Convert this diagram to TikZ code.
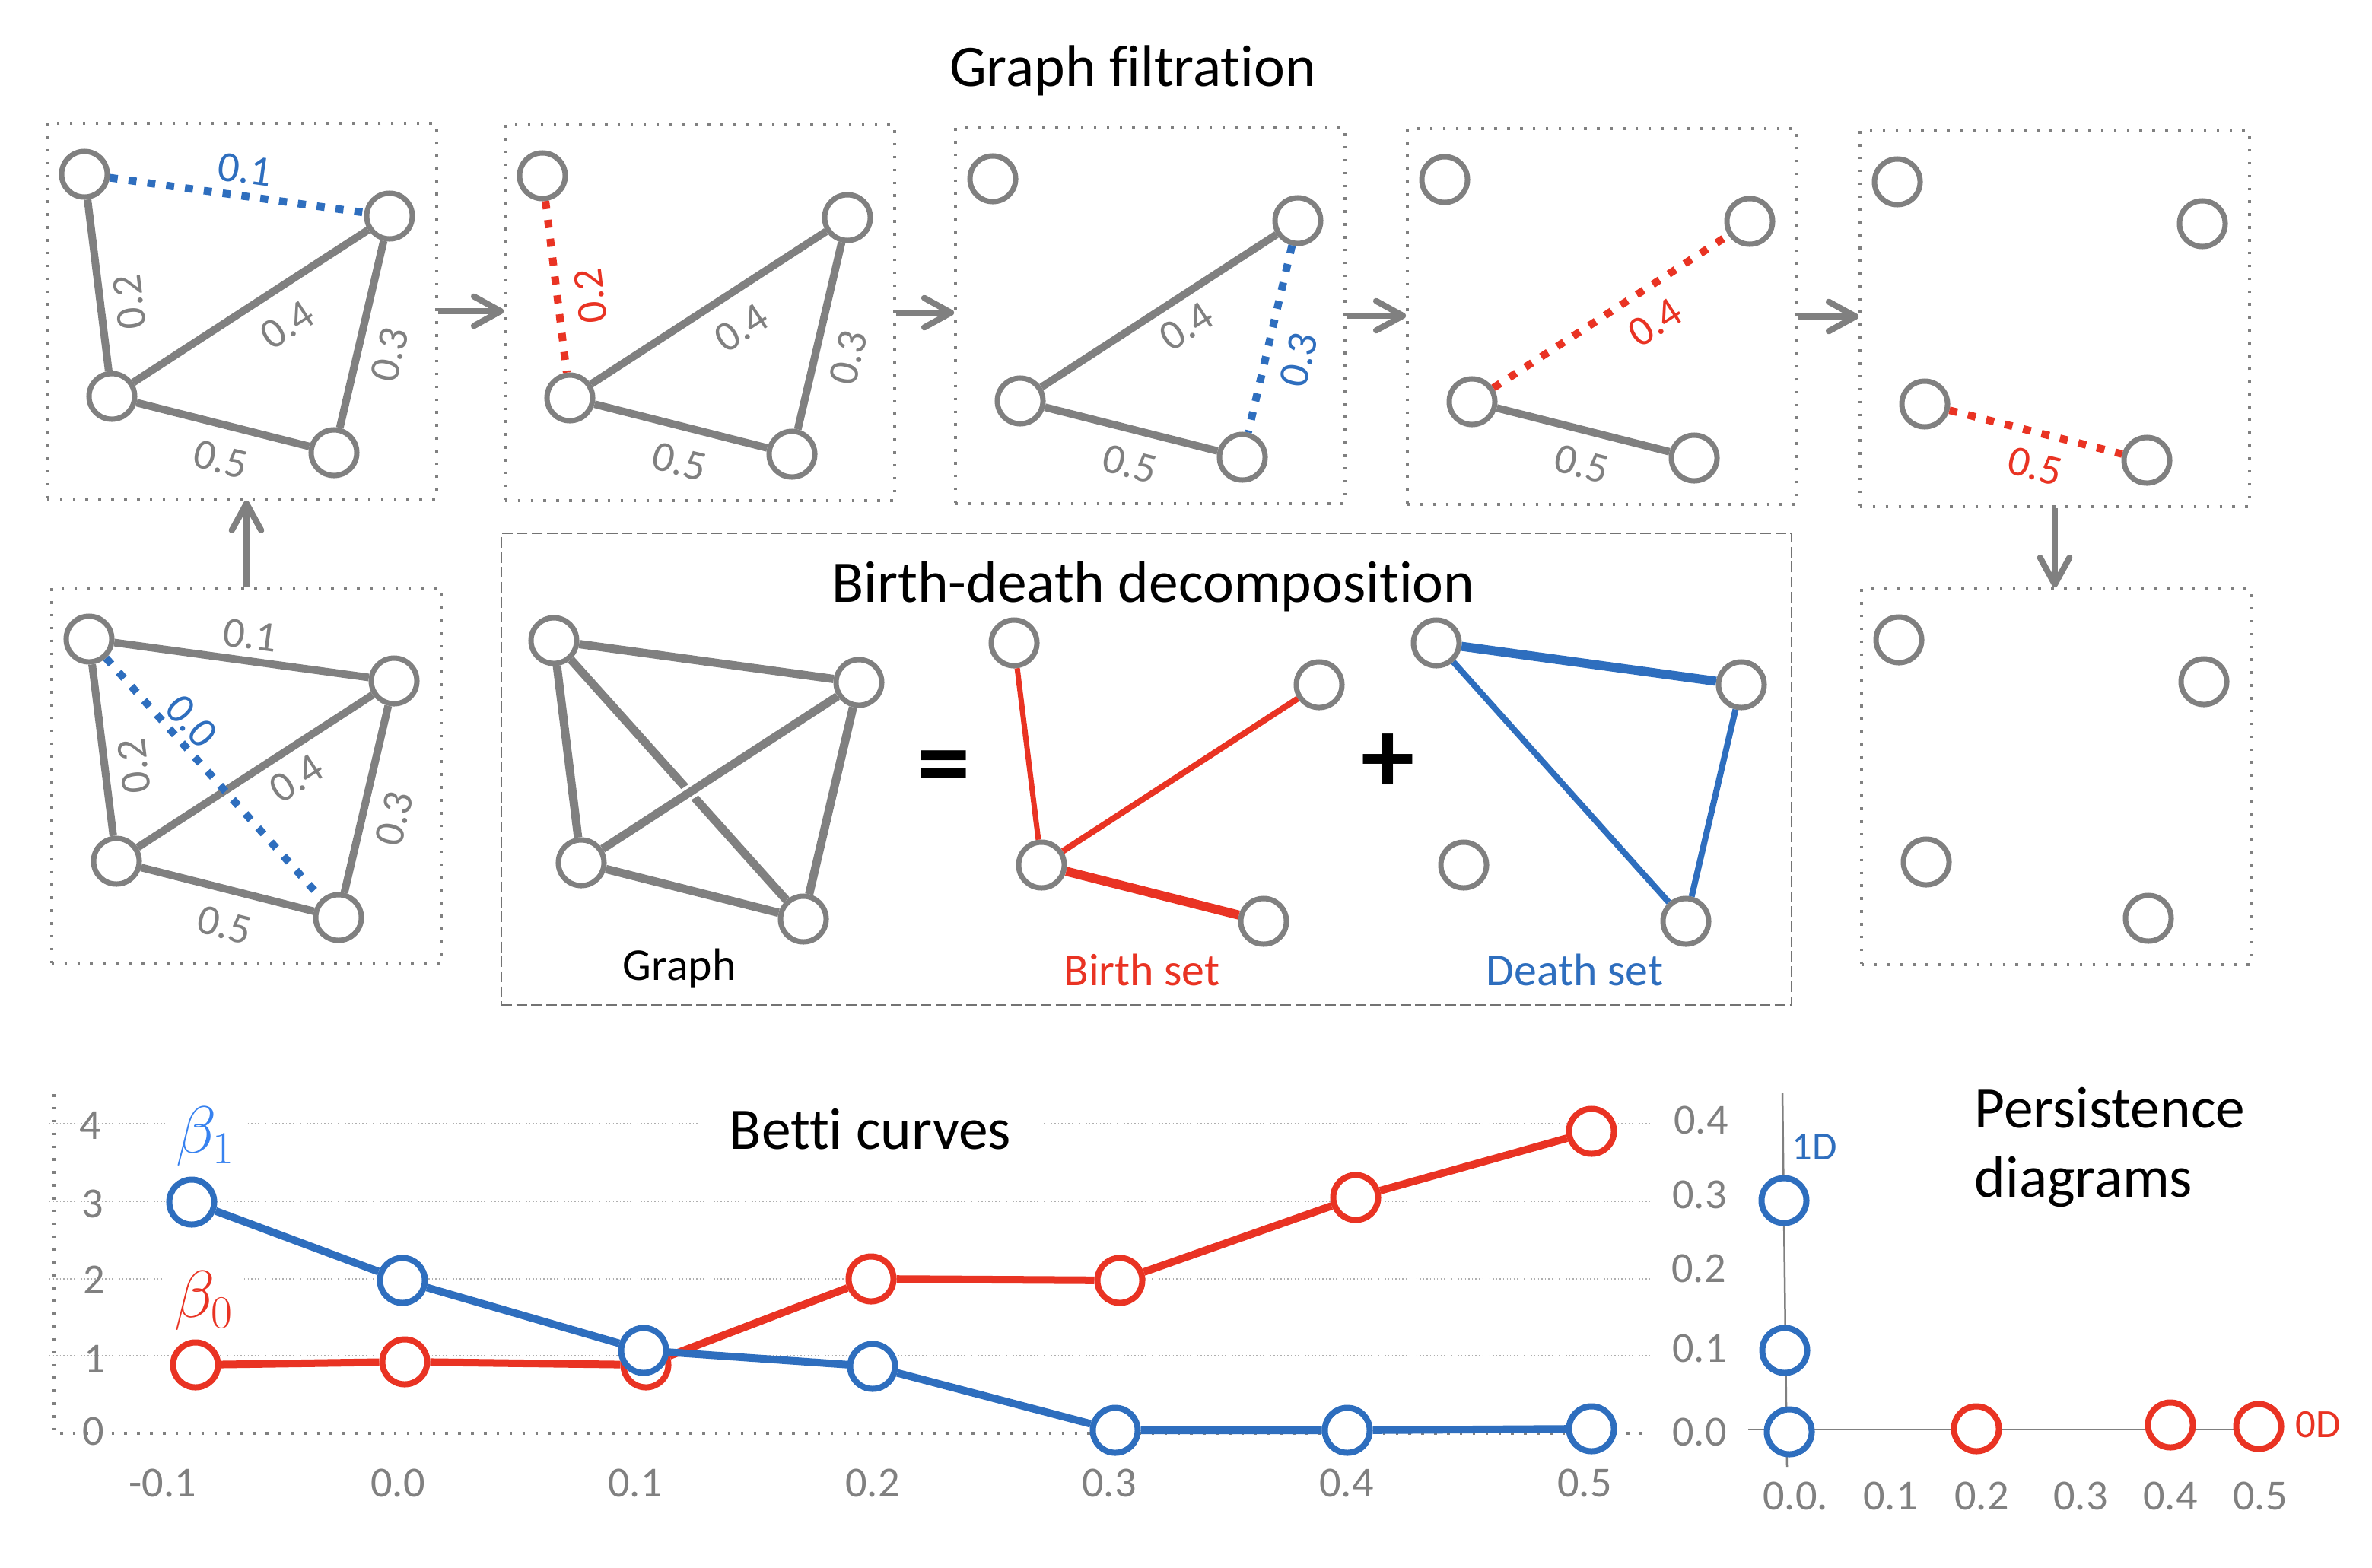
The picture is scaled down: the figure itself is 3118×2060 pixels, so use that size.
\documentclass[tikz,border=0pt]{standalone}
\usepackage{fontspec}
\setmainfont{Carlito}[Ligatures=NoCommon]
\usetikzlibrary{arrows.meta}
\newdimen\px
\px=0.284528pt
\definecolor{gr}{RGB}{128,128,128}
\definecolor{bl}{RGB}{46,110,190}
\definecolor{rd}{RGB}{233,51,35}
\definecolor{lb}{RGB}{55,130,240}
\definecolor{gridc}{RGB}{175,175,175}
\newcommand\gnodes[1]{%
  \node[vtx] (#1tl) at (49,67) {};
  \node[vtx] (#1r) at (450,122) {};
  \node[vtx] (#1bl) at (85,359) {};
  \node[vtx] (#1br) at (377,433) {};}
\newcommand\gbox[1]{\node[fbox] (#1box) at (256,247) {};}
\begin{document}
\begin{tikzpicture}[x=0.01cm,y=-0.01cm,
  vtx/.style={circle, draw=gr, fill=white, line width=7*\px, minimum size=60*\px, inner sep=0pt},
  fbox/.style={draw=gr, line width=1pt, dash pattern=on 1pt off 3.8pt, minimum width=512*\px, minimum height=494*\px, inner sep=0pt},
  gedge/.style={draw=gr, line width=10*\px},
  bdot/.style={draw=bl, line width=10*\px, dash pattern=on 3pt off 4.1pt},
  rdot/.style={draw=rd, line width=10*\px, dash pattern=on 3pt off 4.1pt},
  elab/.style={font=\fontsize{16}{16}\selectfont, text=gr, inner sep=1pt},
  title/.style={font=\fontsize{22}{26}\selectfont, inner sep=2pt},
  sublab/.style={font=\fontsize{17}{17}\selectfont, inner sep=1pt},
  tick/.style={font=\fontsize{16}{16}\selectfont, text=gr, inner sep=1pt},
  mk/.style={circle, fill=white, line width=8*\px, minimum size=59*\px, inner sep=0pt},
  curve/.style={line width=10*\px},
  arr/.style={draw=gr, line width=8*\px, -{Straight Barb[length=10pt,width=11pt,round]}},
  dbox/.style={draw=gr!90!black, line width=2.5*\px, dash pattern=on 4pt off 1.6pt, minimum width=1695*\px, minimum height=620*\px, inner sep=0pt},
  gridl/.style={draw=gridc, line width=0.4pt, dash pattern=on 0.4pt off 0.9pt},
  axdot/.style={draw=gr, line width=1pt, dash pattern=on 1pt off 3.8pt},
  pax/.style={draw=gr, line width=2.5*\px},
  sign/.style={font=\fontsize{40}{40}\selectfont\bfseries, inner sep=0pt}]
\fill[white] (0,0) rectangle (3118,2060);
\useasboundingbox (0,0) rectangle (3118,2060);

\node[title] (ttl) at (1489,93) {Graph filtration};

% ---- box 1
\begin{scope}[shift={(62,162)}]
  \gbox{pa}\gnodes{pa}
  \draw[gedge] (patl)--(pabl) (pabl)--(par) (par)--(pabr) (pabl)--(pabr);
  \draw[bdot] (patl)--(par);
  \node[elab,text=bl,rotate=-7.8] (pal1) at (260,61) {0.1};
  \node[elab,rotate=97] (pal2) at (108,235) {0.2};
  \node[elab,rotate=33] (pal4) at (316,265) {0.4};
  \node[elab,rotate=77] (pal3) at (450,304) {0.3};
  \node[elab,rotate=-14] (pal5) at (228,442) {0.5};
\end{scope}
% ---- box 2
\begin{scope}[shift={(664,164)}]
  \gbox{pb}\gnodes{pb}
  \draw[gedge] (pbbl)--(pbr) (pbr)--(pbbr) (pbbl)--(pbbr);
  \draw[rdot] (pbtl)--(pbbl);
  \node[elab,text=rd,rotate=97] (pbl2) at (112,225) {0.2};
  \node[elab,rotate=33] (pbl4) at (311,267) {0.4};
  \node[elab,rotate=77] (pbl3) at (451,306) {0.3};
  \node[elab,rotate=-14] (pbl5) at (229,443) {0.5};
\end{scope}
% ---- box 3
\begin{scope}[shift={(1256,168)}]
  \gbox{pc}\gnodes{pc}
  \draw[gedge] (pcbl)--(pcr) (pcbl)--(pcbr);
  \draw[bdot] (pcr)--(pcbr);
  \node[elab,rotate=33] (pcl4) at (304,261) {0.4};
  \node[elab,text=bl,rotate=77] (pcl3) at (451,305) {0.3};
  \node[elab,rotate=-14] (pcl5) at (229,442) {0.5};
\end{scope}
% ---- box 4
\begin{scope}[shift={(1850,169)}]
  \gbox{pd}\gnodes{pd}
  \draw[gedge] (pdbl)--(pdbr);
  \draw[rdot] (pdbl)--(pdr);
  \node[elab,text=rd,rotate=33] (pdl4) at (326,255) {0.4};
  \node[elab,rotate=-14] (pdl5) at (229,441) {0.5};
\end{scope}
% ---- box 5
\begin{scope}[shift={(2445,172)}]
  \gbox{pe}\gnodes{pe}
  \draw[rdot] (pebl)--(pebr);
  \node[elab,text=rd,rotate=-14] (pel5) at (230,441) {0.5};
\end{scope}
% ---- box 0 (bottom left)
\begin{scope}[shift={(68,773)}]
  \gbox{pf}\gnodes{pf}
  \draw[gedge] (pftl)--(pfr) (pftl)--(pfbl) (pfbl)--(pfr) (pfr)--(pfbr) (pfbl)--(pfbr);
  \draw[bdot] (pftl)--(pfbr);
  \node[elab,rotate=-7.8] (pfl1) at (261,62) {0.1};
  \node[elab,rotate=97] (pfl2) at (108,234) {0.2};
  \node[elab,rotate=33] (pfl4) at (322,250) {0.4};
  \node[elab,rotate=77] (pfl3) at (450,303) {0.3};
  \node[elab,rotate=-14] (pfl5) at (227,443) {0.5};
  \node[elab,text=bl,rotate=-48] (pfl0) at (184,175) {0.0};
\end{scope}
% ---- box 6 (bottom right)
\begin{scope}[shift={(2447,774)}]
  \gbox{pg}\gnodes{pg}
\end{scope}

% arrows
\draw[arr] (pabox.east) -- (pabox.east -| pbbox.west);
\draw[arr] (pbbox.east) -- (pbbox.east -| pcbox.west);
\draw[arr] (pcbox.east) -- (pcbox.east -| pdbox.west);
\draw[arr] (pdbox.east) -- (pdbox.east -| pebox.west);
\draw[arr] (pfbox.north) -- (pfbox.north |- pabox.south);
\draw[arr] (pebox.south) -- (pebox.south |- pgbox.north);

% ---- birth-death decomposition
\node[dbox] (dbox) at (1507,1011) {};
\node[title] (dttl) at (1516,771) {Birth-death decomposition};
\begin{scope}[shift={(679,775)}]
  \gnodes{dg}
  \draw[gr, line width=11*\px] (dgtl)--(dgr) (dgtl)--(dgbl) (dgtl)--(dgbr) (dgr)--(dgbr) (dgbl)--(dgbr);
  \draw[gr, line width=11*\px, preaction={draw=white, line width=19*\px}] (dgbl)--(dgr);
\end{scope}
\begin{scope}[shift={(1284,778)}]
  \gnodes{db}
  \draw[rd, line width=7*\px] (dbtl)--(dbbl);
  \draw[rd, line width=8*\px] (dbbl)--(dbr);
  \draw[rd, line width=12*\px] (dbbl)--(dbbr);
\end{scope}
\begin{scope}[shift={(1839,778)}]
  \gnodes{dd}
  \draw[bl, line width=12*\px] (ddtl)--(ddr);
  \draw[bl, line width=8*\px] (ddtl)--(ddbr) (ddr)--(ddbr);
\end{scope}
\node[sign] (eq) at (1241,1018) {=};
\node[sign] (plus) at (1825,1004) {+};
\node[sublab] (lg) at (893,1273) {Graph};
\node[sublab,text=rd] (lbs) at (1501,1275) {Birth set};
\node[sublab,text=bl] (lds) at (2070,1275) {Death set};

% ---- Betti curves
\foreach \yy in {1477,1579,1681,1782} \draw[gridl] (65,\yy) -- (2170,\yy);
\draw[axdot] (79,1884) -- (2170,1884);
\draw[axdot] (71,1438) -- (71,1884);
\node[tick] (yt4) at (119,1479) {4};
\node[tick] (yt3) at (122,1582) {3};
\node[tick] (yt2) at (124,1682) {2};
\node[tick] (yt1) at (125,1786) {1};
\node[tick] (yt0) at (123,1881) {0};
\node[tick] (xt1) at (214,1949) {-0.1};
\node[tick] (xt2) at (523,1949) {0.0};
\node[tick] (xt3) at (835,1949) {0.1};
\node[tick] (xt4) at (1147,1949) {0.2};
\node[tick] (xt5) at (1458,1949) {0.3};
\node[tick] (xt6) at (1770,1949) {0.4};
\node[tick] (xt7) at (2083,1949) {0.5};
\node[title, fill=white, inner xsep=12pt] (bctl) at (1144,1484) {Betti curves};
\node[fill=white, text=lb, font=\fontsize{25}{25}\selectfont, inner sep=4pt] (be1) at (270,1494) {$\beta_1$};
\node[fill=white, text=rd, font=\fontsize{25}{25}\selectfont, inner sep=4pt] (be0) at (268,1710) {$\beta_0$};

\node[mk,draw=rd] (r1) at (257,1794) {};
\node[mk,draw=rd] (r2) at (532,1790) {};
\node[mk,draw=rd] (r3) at (849,1794) {};
\node[mk,draw=rd] (r4) at (1145,1681) {};
\node[mk,draw=rd] (r5) at (1472,1683) {};
\node[mk,draw=rd] (r6) at (1782,1574) {};
\node[mk,draw=rd] (r7) at (2092,1487) {};
\draw[curve,rd] (r1)--(r2)--(r3)--(r4)--(r5)--(r6)--(r7);
\node[mk,draw=bl] (u1) at (252,1580) {};
\node[mk,draw=bl] (u2) at (529,1683) {};
\node[mk,draw=bl] (u3) at (846,1775) {};
\node[mk,draw=bl] (u4) at (1147,1796) {};
\node[mk,draw=bl] (u5) at (1466,1880) {};
\node[mk,draw=bl] (u6) at (1771,1880) {};
\node[mk,draw=bl] (u7) at (2092,1878) {};
\draw[curve,bl] (u1)--(u2)--(u3)--(u4)--(u5)--(u6)--(u7);

% ---- persistence diagrams
\draw[pax] (2343,1436) -- (2349,1928);
\draw[pax] (2298,1879) -- (2958,1879);
\node[tick] (py4) at (2236,1472) {0.4};
\node[tick] (py3) at (2234,1570) {0.3};
\node[tick] (py2) at (2233,1667) {0.2};
\node[tick] (py1) at (2234,1772) {0.1};
\node[tick] (py0) at (2234,1882) {0.0};
\node[tick] (px0) at (2360,1966) {0.0.};
\node[tick] (px1) at (2485,1966) {0.1};
\node[tick] (px2) at (2605,1966) {0.2};
\node[tick] (px3) at (2735,1966) {0.3};
\node[tick] (px4) at (2853,1966) {0.4};
\node[tick] (px5) at (2971,1966) {0.5};
\node[mk,draw=bl] (pb1) at (2345,1578) {};
\node[mk,draw=bl] (pb2) at (2346,1775) {};
\node[mk,draw=bl] (pb3) at (2352,1882) {};
\node[mk,draw=rd] (pr1) at (2598,1878) {};
\node[mk,draw=rd] (pr2) at (2853,1873) {};
\node[mk,draw=rd] (pr3) at (2969,1875) {};
\node[font=\fontsize{15}{15}\selectfont, text=bl, inner sep=1pt] (l1d) at (2385,1508) {1D};
\node[font=\fontsize{15}{15}\selectfont, text=rd, inner sep=1pt] (l0d) at (3047,1873) {0D};
\node[title, anchor=west, align=left] (pdt) at (2588,1508) {Persistence\\diagrams};
\end{tikzpicture}
\end{document}
